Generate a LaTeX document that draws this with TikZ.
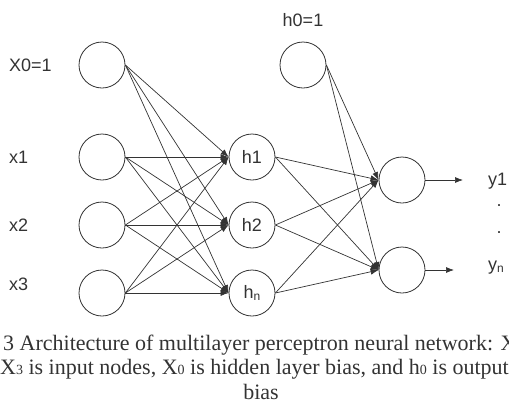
\documentclass[tikz,border=0pt]{standalone}
\usepackage{fontspec}
\setmainfont{Liberation Serif}
\newfontfamily\labfont{Liberation Sans}
\usetikzlibrary{arrows.meta}
\definecolor{ink}{HTML}{333333}
\begin{document}
\begin{tikzpicture}[x=1pt,y=-1pt,
  neuron/.style={circle,draw=ink,line width=0.8pt,minimum size=46pt,inner sep=0pt,
    font=\labfont\fontsize{18}{20}\selectfont,text=ink},
  lab/.style={font=\labfont\fontsize{18}{20}\selectfont,text=ink,inner sep=0pt},
  conn/.style={draw=ink,line width=0.7pt,-{Latex[length=8pt,width=6pt]}},
  captext/.style={font=\fontsize{22}{25}\selectfont,text=ink,inner sep=0pt}]
\useasboundingbox (0,0) rectangle (509,408);
% input layer
\node[neuron] (i0) at (102,65) {};
\node[neuron] (i1) at (102,157) {};
\node[neuron] (i2) at (102,225) {};
\node[neuron] (i3) at (102,293) {};
% hidden layer
\node[neuron] (h1) at (252,157) {h1};
\node[neuron] (h2) at (252,225) {h2};
\node[neuron] (hn) at (252,293) {h\raisebox{-0.2ex}{\fontsize{12}{12}\selectfont n}};
\node[neuron] (h0) at (303,65) {};
% output layer
\node[neuron] (o1) at (402,180) {};
\node[neuron] (o2) at (402,270) {};
% labels
\node[lab,anchor=west] (l0) at (9,65) {X0=1};
\node[lab,anchor=west] (l1) at (9,157) {x1};
\node[lab,anchor=west] (l2) at (9,225) {x2};
\node[lab,anchor=west] (l3) at (9,284) {x3};
\node[lab] (lh0) at (303,20) {h0=1};
\node[lab,anchor=west] (y1) at (488,181) {y1};
\node[lab] (d1) at (499,206) {.};
\node[lab] (d2) at (499,233) {.};
\node[lab,anchor=west] (yn) at (488,268) {y\raisebox{-0.2ex}{\fontsize{12}{12}\selectfont n}};
\coordinate (t1) at (463,180);
\coordinate (t2) at (454,270);
% connections input -> hidden
\foreach \i in {i0,i1,i2,i3}{
  \foreach \h in {h1,h2,hn}{
    \draw[conn] (\i.east) -- (\h.west);
  }
}
% hidden -> output
\foreach \h in {h0,h1,h2,hn}{
  \foreach \o in {o1,o2}{
    \draw[conn] (\h.east) -- (\o.west);
  }
}
\draw[conn] (o1.east) -- (t1);
\draw[conn] (o2.east) -- (t2);
% caption
\node[captext,anchor=base west] (c1) at (3,350) {3 Architecture of multilayer perceptron neural network: X};
\node[captext,anchor=base west] (c2) at (0,374) {X{\fontsize{14}{14}\selectfont 3} is input nodes, X{\fontsize{14}{14}\selectfont 0} is hidden layer bias, and h{\fontsize{14}{14}\selectfont 0} is output};
\node[captext,anchor=base] (c3) at (261,399) {bias};
\end{tikzpicture}
\end{document}
